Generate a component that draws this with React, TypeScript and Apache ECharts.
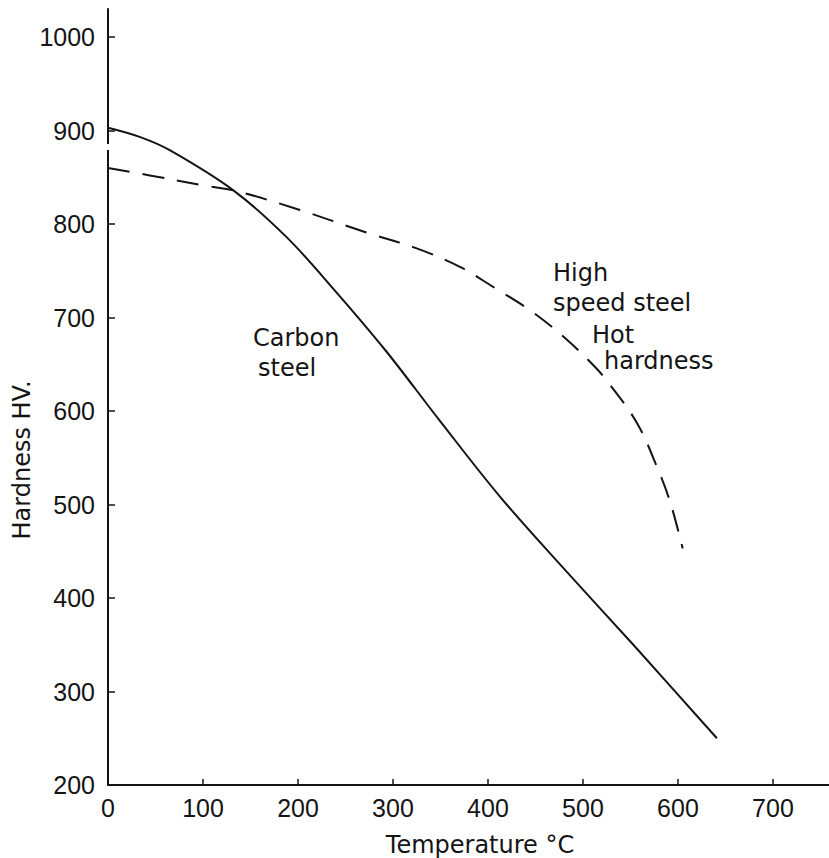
import React, { useEffect, useRef } from "react";
import * as echarts from "echarts";

const xTicks = [0, 100, 200, 300, 400, 500, 600, 700];
const yTicks = [200, 300, 400, 500, 600, 700, 800, 900, 1000];

const carbonTemps = [0, 34, 65, 132, 188, 237, 292, 349, 413, 483, 553, 641];
const carbonHardness = [903, 893, 879, 836, 786, 731, 665, 590, 508, 428, 350, 250];

const hssTemps = [0, 44, 97, 136, 202, 272, 325, 371, 405, 444, 479, 511, 527, 557, 578, 592, 605];
const hssHardness = [860, 852, 842, 835, 815, 791, 774, 754, 733, 708, 680, 649, 630, 587, 540, 502, 453];

const xTitle = "Temperature °C";
const yTitle = "Hardness HV.";

const INK = "#141414";
const WORD_FONT = "DejaVu Sans";
const NUM_FONT = "Liberation Sans";

export default function App() {
  const ref = useRef<HTMLDivElement>(null);
  useEffect(() => {
    if (!ref.current) return;
    const chart = echarts.init(ref.current, null, { renderer: "svg" });
    const textStyle = (text: string, x: number, y: number, extra: any = {}) => ({
      type: "text",
      x,
      y,
      z: 50,
      style: {
        text,
        fill: INK,
        fontFamily: WORD_FONT,
        fontSize: 24,
        textAlign: "left",
        textVerticalAlign: "middle",
        ...extra,
      },
    });
    chart.setOption({
      animation: false,
      backgroundColor: "#ffffff",
      grid: { left: 108, right: 0, top: 9, bottom: 73, containLabel: false },
      xAxis: {
        type: "value",
        min: 0,
        max: 759,
        interval: 100,
        splitLine: { show: false },
        axisLine: { show: true, onZero: false, lineStyle: { color: INK, width: 2 } },
        axisTick: { show: true, inside: true, length: 6, customValues: xTicks.slice(1), lineStyle: { color: INK, width: 1.5 } },
        axisLabel: {
          customValues: xTicks,
          formatter: (v: number) => (xTicks.includes(v) ? String(v) : ""),
          color: INK,
          fontFamily: NUM_FONT,
          fontSize: 25,
          margin: 10,
        },
      },
      yAxis: {
        type: "value",
        min: 200,
        max: 1030,
        interval: 100,
        splitLine: { show: false },
        axisLine: { show: true, onZero: false, lineStyle: { color: INK, width: 2 } },
        axisTick: { show: true, inside: true, length: 7, customValues: yTicks.slice(1), lineStyle: { color: INK, width: 1.5 } },
        axisLabel: {
          customValues: yTicks,
          formatter: (v: number) => (yTicks.includes(v) ? String(v) : ""),
          color: INK,
          fontFamily: NUM_FONT,
          fontSize: 25,
          margin: 13,
        },
      },
      series: [
        {
          name: "Carbon steel",
          type: "line",
          data: carbonTemps.map((t, i) => [t, carbonHardness[i]]),
          smooth: 0.35,
          symbol: "none",
          lineStyle: { color: INK, width: 2 },
        },
        {
          name: "High speed steel",
          type: "line",
          data: hssTemps.map((t, i) => [t, hssHardness[i]]),
          smooth: 0.35,
          symbol: "none",
          lineStyle: { color: INK, width: 2, type: [22, 13] },
        },
      ],
      graphic: [
        { type: "rect", z: 100, shape: { x: 104, y: 144, width: 8, height: 6 }, style: { fill: "#ffffff" } },
        textStyle("Carbon", 253, 338),
        textStyle("steel", 258, 368),
        textStyle("High", 553, 273),
        textStyle("speed steel", 553, 303),
        textStyle("Hot", 592, 335),
        textStyle("hardness", 604, 361),
        textStyle(xTitle, 480, 845, { textAlign: "center" }),
        {
          type: "text",
          x: 22,
          y: 460,
          rotation: Math.PI / 2,
          z: 50,
          style: {
            text: yTitle,
            fill: INK,
            fontFamily: WORD_FONT,
            fontSize: 24,
            textAlign: "center",
            textVerticalAlign: "middle",
          },
        },
      ],
    });
    return () => chart.dispose();
  }, []);
  return (
    <div
      ref={ref}
      style={{ position: "fixed", left: 0, top: 0, width: 829, height: 858, background: "#fff" }}
    />
  );
}
